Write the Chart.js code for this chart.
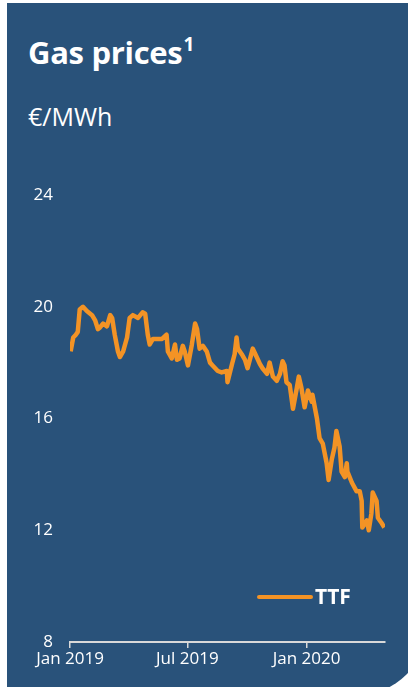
<!DOCTYPE html>
<html>
<head>
<meta charset="utf-8">
<script src="https://cdn.jsdelivr.net/npm/chart.js@4.4.1/dist/chart.umd.min.js"></script>
<style>
  html, body { margin: 0; padding: 0; width: 408px; height: 687px; overflow: hidden; background: #fff; }
  #panel {
    position: absolute; left: 7px; top: 3px; width: 420px; height: 692px;
    background: #29527a; border-bottom-right-radius: 70px;
  }
  .txt { position: absolute; color: #fff; font-family: "Open Sans", Lato, sans-serif; white-space: nowrap; }
  #title { left: 21px; top: 25px; font-size: 31px; font-weight: 700; line-height: 36px; letter-spacing: -0.3px; }
  #title sup { font-size: 19px; position: relative; top: -2px; margin-left: 1px; }
  #unit { left: 21px; top: 98px; font-size: 25px; line-height: 30px; }
  #wrap { position: absolute; left: 0; top: 160px; width: 408px; height: 527px; }
</style>
</head>
<body>
<div id="panel">
  <div id="title" class="txt">Gas prices<sup>1</sup></div>
  <div id="unit" class="txt">€/MWh</div>
</div>
<div id="wrap"><canvas id="graficoGas"></canvas></div>
<script>
// days since 1 Jan 2019
const diasDesde2019 = [1, 5, 9, 12, 15, 20, 26, 34, 39, 43, 46, 51, 57, 62, 65, 69, 74, 77, 82, 88,
  92, 97, 105, 112, 116, 120, 123, 128, 134, 142, 149, 151, 157, 162, 165, 169, 174, 177, 182, 188,
  193, 196, 200, 205, 211, 216, 220, 228, 234, 242, 243, 250, 254, 257, 259, 265, 270, 274, 282, 288,
  293, 297, 304, 308, 313, 319, 324, 328, 331, 334, 339, 344, 350, 353, 357, 362, 367, 373, 374, 381,
  385, 390, 396, 399, 404, 408, 411, 416, 419, 424, 427, 428, 435, 442, 447, 450, 451, 458, 461, 465,
  467, 470, 473, 475, 481, 485];
const precoTTF = [18.4, 18.9, 19.0, 19.1, 19.9, 20.0, 19.85, 19.7, 19.5, 19.2, 19.25, 19.4, 19.3, 19.7, 19.6, 19.0, 18.4, 18.2, 18.4, 18.9,
  19.6, 19.7, 19.6, 19.8, 19.75, 19.0, 18.65, 18.85, 18.85, 18.85, 19.0, 18.4, 18.15, 18.65, 18.1, 18.15, 18.6, 18.4, 17.9, 18.65,
  19.4, 19.2, 18.5, 18.6, 18.4, 18.0, 17.9, 17.7, 17.65, 17.7, 17.3, 17.95, 18.3, 18.9, 18.5, 18.3, 18.1, 17.8, 18.5, 18.2,
  17.95, 17.8, 17.6, 18.0, 17.5, 17.35, 17.6, 18.05, 17.9, 17.3, 17.2, 16.35, 17.1, 17.5, 17.1, 16.4, 17.0, 16.6, 16.85, 16.0,
  15.3, 15.1, 14.4, 13.8, 14.55, 14.95, 15.55, 15.0, 14.1, 13.9, 14.4, 14.1, 13.7, 13.4, 13.4, 13.05, 12.1, 12.35, 12.0, 12.6,
  13.35, 13.2, 13.05, 12.45, 12.25, 12.1];
const diasTicks = [0, 181, 365];
const rotulosTicks = ['Jan 2019', 'Jul 2019', 'Jan 2020'];
const valoresY = [8, 12, 16, 20, 24];

const corLinha = '#f39325';
const fonte = '"Open Sans", Lato, sans-serif';

// legenda desenhada dentro da area do grafico, canto inferior direito
const legendaTTF = {
  id: 'legendaTTF',
  afterDraw(chart) {
    const c = chart.ctx;
    const a = chart.chartArea;
    const ds = chart.data.datasets[0];
    const y = a.bottom - 45;
    c.save();
    c.strokeStyle = ds.borderColor;
    c.lineWidth = 4;
    c.lineCap = 'round';
    c.beginPath();
    c.moveTo(a.right - 126, y);
    c.lineTo(a.right - 74, y);
    c.stroke();
    c.fillStyle = '#fff';
    c.font = 'bold 21px ' + fonte;
    c.textBaseline = 'middle';
    c.fillText(ds.label, a.right - 70, y + 1);
    c.restore();
  }
};

const ctx = document.getElementById('graficoGas').getContext('2d');

new Chart(ctx, {
  type: 'line',
  data: {
    datasets: [{
      label: 'TTF',
      data: diasDesde2019.map((d, i) => ({ x: d, y: precoTTF[i] })),
      borderColor: corLinha,
      borderWidth: 4.5,
      pointRadius: 0,
      tension: 0,
      borderJoinStyle: 'round'
    }]
  },
  options: {
    responsive: true,
    maintainAspectRatio: false,
    animation: false,
    layout: { padding: { left: 0, right: 23, top: 35, bottom: 0 } },
    plugins: { legend: { display: false }, tooltip: { enabled: false } },
    scales: {
      x: {
        type: 'linear',
        min: 0,
        max: 486,
        afterBuildTicks(scale) { scale.ticks = diasTicks.map(v => ({ value: v })); },
        afterFit(scale) { scale.height = 45; },
        grid: { drawOnChartArea: false, drawTicks: true, tickLength: 6, color: '#d9d9d9', lineWidth: 1.5 },
        border: { display: true, color: '#d9d9d9', width: 2 },
        ticks: {
          color: '#fff',
          font: { family: fonte, size: 17 },
          padding: 1,
          maxRotation: 0,
          autoSkip: false,
          callback: (v) => rotulosTicks[diasTicks.indexOf(v)]
        }
      },
      y: {
        min: 8,
        max: 24,
        afterBuildTicks(scale) { scale.ticks = valoresY.map(v => ({ value: v })); },
        afterFit(scale) { scale.width = 70; },
        grid: { display: false, drawTicks: false },
        border: { display: false },
        ticks: { color: '#fff', font: { family: fonte, size: 17 }, padding: 17 }
      }
    }
  },
  plugins: [legendaTTF]
});
</script>
</body>
</html>
